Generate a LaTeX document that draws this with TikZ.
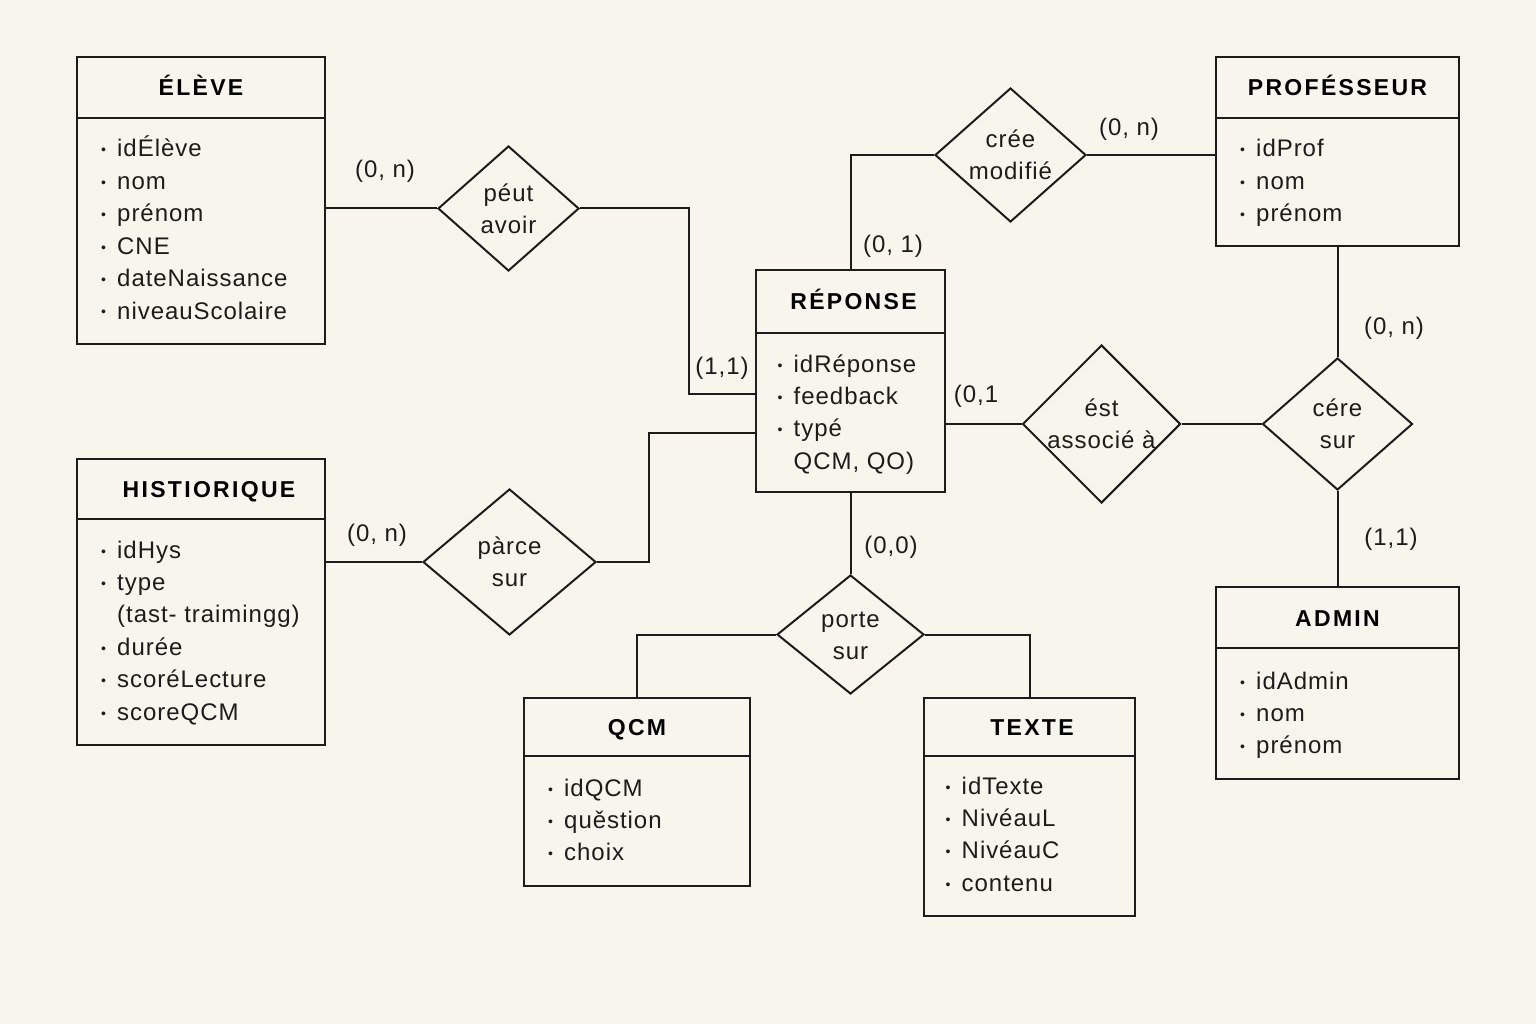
\documentclass[tikz,border=0pt]{standalone}
\usepackage{fontspec}
\setmainfont{Liberation Sans}[LetterSpace=4]
\newfontfamily\titlefont{Liberation Sans}[LetterSpace=10]
\usepackage{tikz}
\usetikzlibrary{positioning}
\usetikzlibrary{shapes.geometric}
\definecolor{paper}{RGB}{248, 245, 236}
\definecolor{ink}{RGB}{28, 28, 28}
\newcommand{\bul}{\makebox[16pt][l]{\raisebox{2pt}{\fontsize{14pt}{14pt}\selectfont •}}}
\newcommand{\nob}{\hspace*{16pt}}
\tikzset{ehead/.style = {draw = ink, fill = paper, line width = 2pt, inner sep = 0, outer sep = 0,
                         text height = 17pt, text depth = 0pt,
                         font = \titlefont\bfseries\fontsize{23pt}{28pt}\selectfont}}
\tikzset{ebody/.style = {draw = ink, fill = paper, line width = 2pt, inner sep = 0, outer sep = 0,
                         below = 0pt of #1}}
\tikzset{attr/.style = {anchor = base west, inner sep = 0, text = ink,
                        font = \fontsize{24pt}{32pt}\selectfont}}
\tikzset{rel/.style = {diamond, draw = ink, fill = paper, line width = 2pt, inner sep = 0,
                       align = center, text = ink, font = \fontsize{24pt}{32pt}\selectfont}}
\tikzset{card/.style = {inner sep = 0, text = ink, font = \fontsize{24pt}{28pt}\selectfont}}
\tikzset{link/.style = {draw = ink, line width = 2pt}}

\begin{document}
\begin{tikzpicture}[x=1pt, y=-1pt]
    \fill [paper] (0, 0) rectangle (1536, 1024);
    % entites
    \node [ehead, minimum width = 248pt, minimum height = 61pt] (eleve) at (201, 87.5) {ÉLÈVE};
    \node [ebody = eleve, minimum width = 248pt, minimum height = 226pt] (eleve-b) {};
    \node [ehead, minimum width = 243pt, minimum height = 61pt] (prof) at (1337.5, 87.5) {PROFÉSSEUR};
    \node [ebody = prof, minimum width = 243pt, minimum height = 128pt] (prof-b) {};
    \node [ehead, minimum width = 189pt, minimum height = 63pt, text height = 15pt] (rep) at (850.5, 301.5) {\hspace*{6pt}RÉPONSE};
    \node [ebody = rep, minimum width = 189pt, minimum height = 159pt] (rep-b) {};
    \node [ehead, minimum width = 248pt, minimum height = 60pt] (hist) at (201, 489) {\hspace*{16pt}HISTIORIQUE};
    \node [ebody = hist, minimum width = 248pt, minimum height = 226pt] (hist-b) {};
    \node [ehead, minimum width = 243pt, minimum height = 61pt] (admin) at (1337.5, 617.5) {ADMIN};
    \node [ebody = admin, minimum width = 243pt, minimum height = 131pt] (admin-b) {};
    \node [ehead, minimum width = 226pt, minimum height = 58pt] (qcm) at (637, 727) {QCM};
    \node [ebody = qcm, minimum width = 226pt, minimum height = 130pt] (qcm-b) {};
    \node [ehead, minimum width = 211pt, minimum height = 58pt] (texte) at (1029.5, 727) {\hspace*{5pt}TEXTE};
    \node [ebody = texte, minimum width = 211pt, minimum height = 160pt] (texte-b) {};
    % attributs
    \foreach \t [count=\i] in {\bul idÉlève, \bul nom, \bul prénom, \bul CNE, \bul dateNaissance, \bul niveauScolaire}
      \node [attr] (eleve-\i) at ([shift={(24, 6.6 + 32.4*\i)}]eleve-b.north west) {\t};
    \foreach \t [count=\i] in {\bul idProf, \bul nom, \bul prénom}
      \node [attr] (prof-\i) at ([shift={(24, 6.6 + 32.4*\i)}]prof-b.north west) {\t};
    \foreach \t [count=\i] in {\bul idRéponse, \bul feedback, \bul typé, {\nob QCM, QO)}}
      \node [attr] (rep-\i) at ([shift={(21.5, 6.6 + 32.4*\i)}]rep-b.north west) {\t};
    \foreach \t [count=\i] in {\bul idHys, \bul type, {\nob (tast- traimingg)}, \bul durée, \bul scoréLecture, \bul scoreQCM}
      \node [attr] (hist-\i) at ([shift={(24, 6.6 + 32.4*\i)}]hist-b.north west) {\t};
    \foreach \t [count=\i] in {\bul idAdmin, \bul nom, \bul prénom}
      \node [attr] (admin-\i) at ([shift={(24, 8.6 + 32.4*\i)}]admin-b.north west) {\t};
    \foreach \t [count=\i] in {\bul idQCM, \bul quěstion, \bul choix}
      \node [attr] (qcm-\i) at ([shift={(24, 7.6 + 32.4*\i)}]qcm-b.north west) {\t};
    \foreach \t [count=\i] in {\bul idTexte, \bul NivéauL, \bul NivéauC, \bul contenu}
      \node [attr] (texte-\i) at ([shift={(21.5, 5.6 + 32.4*\i)}]texte-b.north west) {\t};
    % associations
    \node [rel, minimum width = 141pt, minimum height = 125pt] (peut) at (508.5, 208.5) {péut\\avoir};
    \node [rel, minimum width = 151pt, minimum height = 134pt] (cree) at (1010.5, 155) {crée\\modifié};
    \node [rel, minimum width = 173pt, minimum height = 146pt] (parce) at (509.5, 562) {pàrce\\sur};
    \node [rel, minimum width = 153pt, minimum height = 129pt] (est) at (1101.5, 424) {ést\\associé à};
    \node [rel, minimum width = 150pt, minimum height = 132pt] (cere) at (1337.5, 424) {cére\\sur};
    \node [rel, minimum width = 147pt, minimum height = 119pt] (porte) at (850.5, 634.5) {\\[-14pt]porte\\sur};
    % liens
    \coordinate (k1) at (689, 394);
    \coordinate (k2) at (649, 433);
    \draw [link] (peut.west) -- (peut.west -| eleve-b.east);
    \draw [link] (peut.east) -| (k1) -- (k1 -| rep-b.west);
    \draw [link] (rep.north) |- (cree.west);
    \draw [link] (cree.east) -- (cree.east -| prof-b.west);
    \draw [link] (prof-b.south) -- (cere.north);
    \draw [link] (cere.south) -- (admin.north);
    \draw [link] (est.west -| rep-b.east) -- (est.west);
    \draw [link] (est.east) -- (cere.west);
    \draw [link] (k2 -| rep-b.west) -- (k2) |- (parce.east);
    \draw [link] (parce.west) -- (parce.west -| hist-b.east);
    \draw [link] (rep-b.south) -- (porte.north);
    \draw [link] (porte.west) -| (qcm.north);
    \draw [link] (porte.east) -| (texte.north);
    % cardinalites
    \foreach \n/\x/\y/\t in {c1/385/171/{(0, n)}, c2/722/368/{(1,1)}, c3/893/246/{(0, 1)},
                             c4/1129/129/{(0, n)}, c5/1394/328/{(0, n)}, c6/1391/539/{(1,1)},
                             c7/976/396/{(0,1}, c8/891/547/{(0,0)}, c9/377/535/{(0, n)}}
      \node [card] (\n) at (\x, \y) {\t};
\end{tikzpicture}
\end{document}
